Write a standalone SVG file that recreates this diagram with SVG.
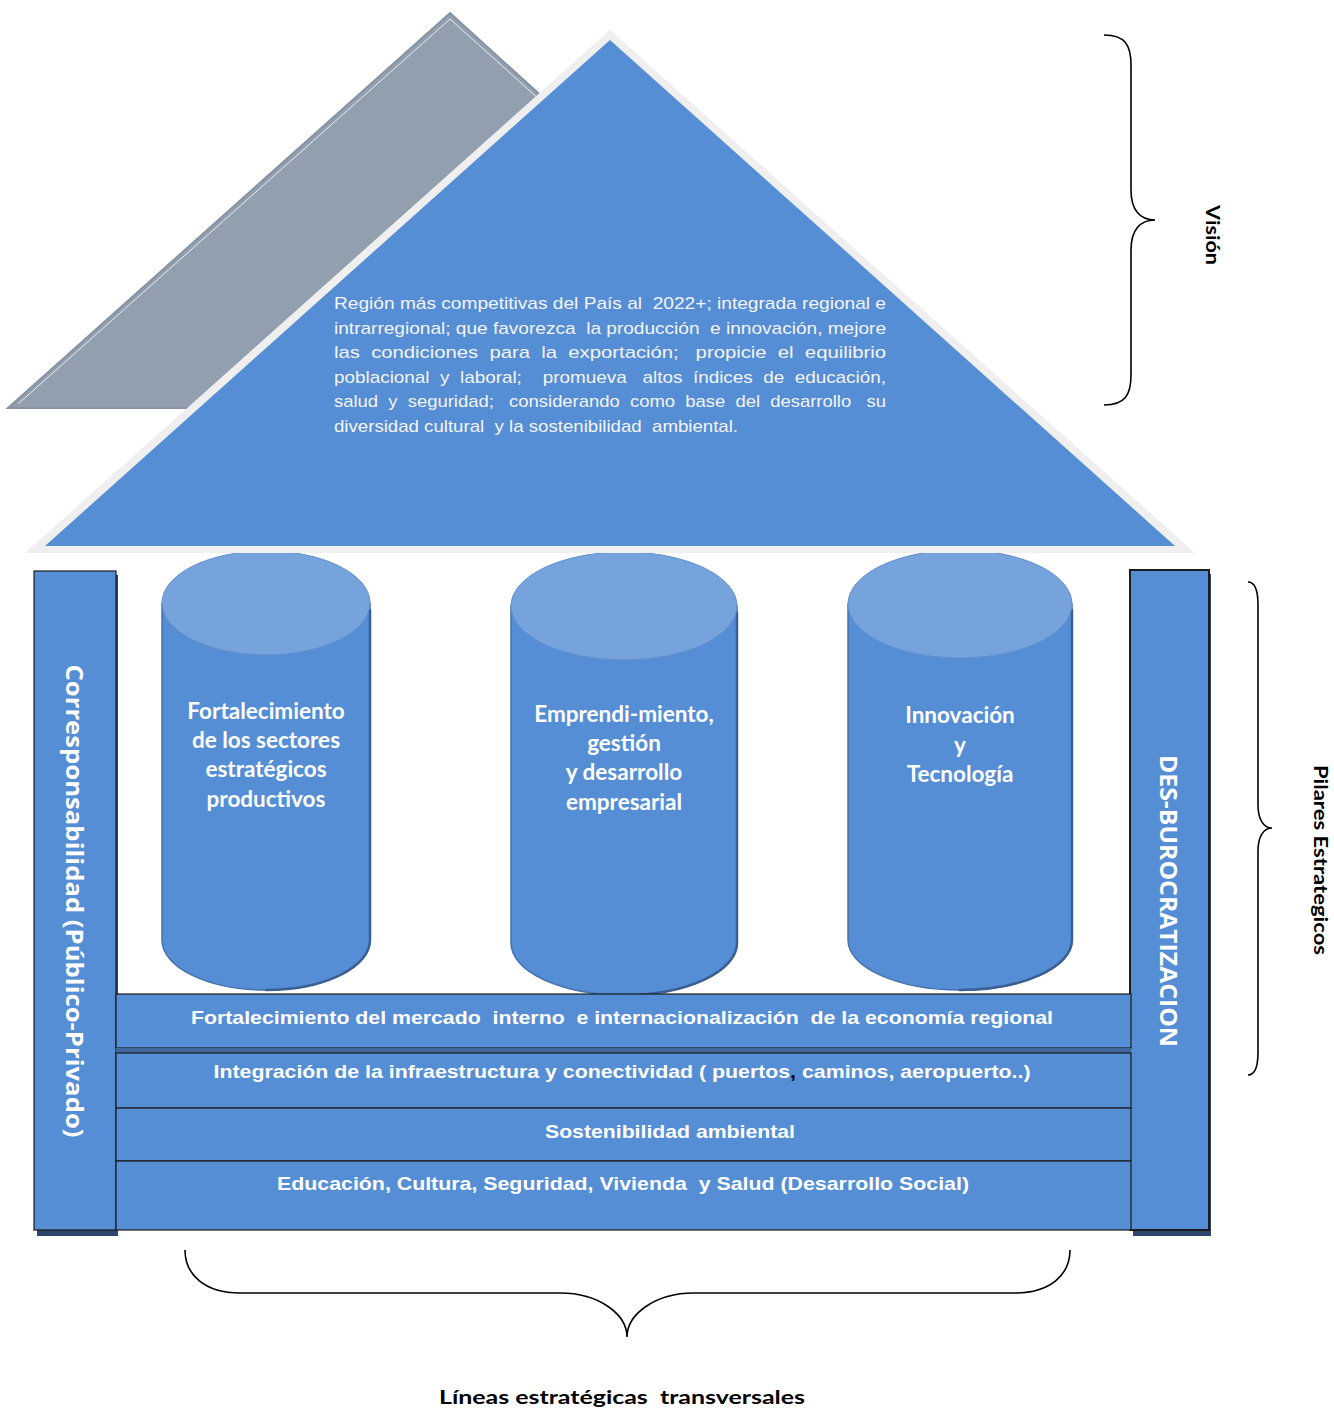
<svg xmlns="http://www.w3.org/2000/svg" width="1334" height="1409" viewBox="0 0 1334 1409">
<style>
text{white-space:pre}
.blue{fill:#558ED5}
.cyl{fill:#558ED5;stroke:#4672AE;stroke-width:1.5}
.cylshade{fill:none;stroke:#3A5F92;stroke-width:2.5;stroke-linecap:round}
.cyltop{fill:#76A3DC;stroke:#5F8FCB;stroke-width:1}
.band{fill:#558ED5;stroke:#1c1c1c;stroke-width:1.2}
.shadow{fill:#2B466A}
.ctext{font-family:Lato,"Open Sans",sans-serif;font-weight:bold;font-size:22.5px;fill:#ffffff;text-anchor:middle}
.btext{font-family:"Liberation Sans",Arial,sans-serif;font-weight:bold;font-size:19px;fill:#ffffff;text-anchor:middle}
.vtext{font-family:"Liberation Sans",Arial,sans-serif;font-size:17px;fill:#F4F4F4}
.coltext{font-family:"Open Sans",sans-serif;font-weight:bold;font-size:23px;fill:#ffffff;text-anchor:middle}
.label{font-family:Lato,"Open Sans",sans-serif;font-weight:bold;font-size:19px;fill:#000000;text-anchor:middle}
.brace{fill:none;stroke:#000000;stroke-width:1.6}
</style>

<!-- cylinders (drawn under the roof) -->
<g id="pillar1">
  <path class="cyl" d="M162,603 L162,940 A104,50 0 0 0 370,940 L370,603 Z"/>
  <path class="cylshade" d="M266,990 A104,50 0 0 0 370,940 L370,610"/>
  <ellipse class="cyltop" cx="266" cy="603" rx="104" ry="52"/>
  <text class="ctext" x="266" y="719">Fortalecimiento</text>
  <text class="ctext" x="266" y="748">de los sectores</text>
  <text class="ctext" x="266" y="777">estratégicos</text>
  <text class="ctext" x="266" y="807">productivos</text>
</g>
<g id="pillar2">
  <path class="cyl" d="M511,606 L511,943 A113,52 0 0 0 737,943 L737,606 Z"/>
  <path class="cylshade" d="M624,995 A113,52 0 0 0 737,943 L737,612"/>
  <ellipse class="cyltop" cx="624" cy="606" rx="113" ry="54"/>
  <text class="ctext" x="624" y="722">Emprendi-miento,</text>
  <text class="ctext" x="624" y="751">gestión</text>
  <text class="ctext" x="624" y="780">y desarrollo</text>
  <text class="ctext" x="624" y="810">empresarial</text>
</g>
<g id="pillar3">
  <path class="cyl" d="M848,604 L848,940 A112,50 0 0 0 1072,940 L1072,604 Z"/>
  <path class="cylshade" d="M960,990 A112,50 0 0 0 1072,940 L1072,610"/>
  <ellipse class="cyltop" cx="960" cy="604" rx="112" ry="54"/>
  <text class="ctext" x="960" y="723">Innovación</text>
  <text class="ctext" x="960" y="753">y</text>
  <text class="ctext" x="960" y="782">Tecnología</text>
</g>

<!-- roof -->
<g id="roof-back">
  <polygon points="450,13 625,172 300,408 8,408" fill="#929FAE" stroke="#8593A3" stroke-width="2"/>
  <polyline points="18,404 450,19 540,100" fill="none" stroke="#ffffff" stroke-width="0.8"/>
</g>
<g id="roof">
  <polygon points="610,30 1195,553 25,553" fill="#EFEFEF"/>
  <polygon class="blue" points="610,40 1175,546 45,546"/>
  <text class="vtext" x="334" y="309" textLength="552" lengthAdjust="spacingAndGlyphs">Región más competitivas del País al  2022+; integrada regional e</text>
  <text class="vtext" x="334" y="334" textLength="552" lengthAdjust="spacingAndGlyphs">intrarregional; que favorezca  la producción  e innovación, mejore</text>
  <text class="vtext" x="334" y="358" textLength="552" lengthAdjust="spacingAndGlyphs">las  condiciones  para  la  exportación;   propicie  el  equilibrio</text>
  <text class="vtext" x="334" y="383" textLength="552" lengthAdjust="spacingAndGlyphs">poblacional  y  laboral;    promueva   altos  índices  de  educación,</text>
  <text class="vtext" x="334" y="407" textLength="552" lengthAdjust="spacingAndGlyphs">salud  y  seguridad;   considerando  como  base  del  desarrollo   su</text>
  <text class="vtext" x="334" y="432" textLength="404" lengthAdjust="spacingAndGlyphs">diversidad cultural  y la sostenibilidad  ambiental.</text>
</g>

<!-- side columns -->
<g id="col-left">
  <rect class="shadow" x="37" y="575" width="81" height="661"/>
  <rect x="34" y="571" width="82" height="659" fill="#558ED5" stroke="#1c1c1c" stroke-width="1.2"/>
  <text class="coltext" transform="translate(66,901) rotate(90)" textLength="473" lengthAdjust="spacingAndGlyphs">Corresponsabilidad (Público-Privado)</text>
</g>
<g id="col-right">
  <rect class="shadow" x="1133" y="574" width="78" height="662"/>
  <rect x="1130" y="570" width="79" height="660" fill="#558ED5" stroke="#1c1c1c" stroke-width="2"/>
  <text class="coltext" transform="translate(1160,901) rotate(90)" textLength="292" lengthAdjust="spacingAndGlyphs">DES-BUROCRATIZACION</text>
</g>

<!-- transversal bands -->
<g id="band1">
  <rect class="band" x="116" y="994" width="1015" height="54"/>
  <rect x="116" y="1048" width="1015" height="5" fill="#41689E"/>
  <text class="btext" x="622" y="1024" textLength="862" lengthAdjust="spacingAndGlyphs">Fortalecimiento del mercado  interno  e internacionalización  de la economía regional</text>
</g>
<g id="band2">
  <rect class="band" x="116" y="1053" width="1015" height="55"/>
  <text class="btext" x="622" y="1078" textLength="817" lengthAdjust="spacingAndGlyphs">Integración de la infraestructura y conectividad ( puertos<tspan fill="#000000">,</tspan> caminos, aeropuerto..)</text>
</g>
<g id="band3">
  <rect class="band" x="116" y="1108" width="1015" height="53"/>
  <text class="btext" x="670" y="1138" textLength="250" lengthAdjust="spacingAndGlyphs">Sostenibilidad ambiental</text>
</g>
<g id="band4">
  <rect class="band" x="116" y="1161" width="1015" height="69"/>
  <text class="btext" x="623" y="1190" textLength="692" lengthAdjust="spacingAndGlyphs">Educación, Cultura, Seguridad, Vivienda  y Salud (Desarrollo Social)</text>
</g>

<!-- braces and labels -->
<g id="connectors">
  <path class="brace" d="M1104,35 C1125,35 1131,45 1131,65 L1131,190 C1131,210 1140,220 1155,220 C1140,220 1131,230 1131,250 L1131,375 C1131,395 1125,405 1104,405"/>
  <path class="brace" d="M1248,582 C1255,582 1258,590 1258,605 L1258,805 C1258,820 1264,828 1272,828 C1264,828 1258,836 1258,851 L1258,1052 C1258,1067 1255,1075 1248,1075"/>
  <path class="brace" stroke-width="1.1" d="M185,1250 C185,1275 205,1293 240,1293 L560,1293 C600,1293 627,1315 627,1337 C627,1315 654,1293 694,1293 L1015,1293 C1050,1293 1070,1275 1070,1250"/>
</g>
<g id="label-vision">
  <text class="label" transform="translate(1206,235) rotate(90)" textLength="60" lengthAdjust="spacingAndGlyphs">Visión</text>
</g>
<g id="label-pilares">
  <text class="label" transform="translate(1314,860) rotate(90)" textLength="190" lengthAdjust="spacingAndGlyphs">Pilares Estrategicos</text>
</g>
<g id="label-lineas">
  <text class="label" x="622" y="1404" font-size="22" textLength="366" lengthAdjust="spacingAndGlyphs">Líneas estratégicas  transversales</text>
</g>
</svg>
